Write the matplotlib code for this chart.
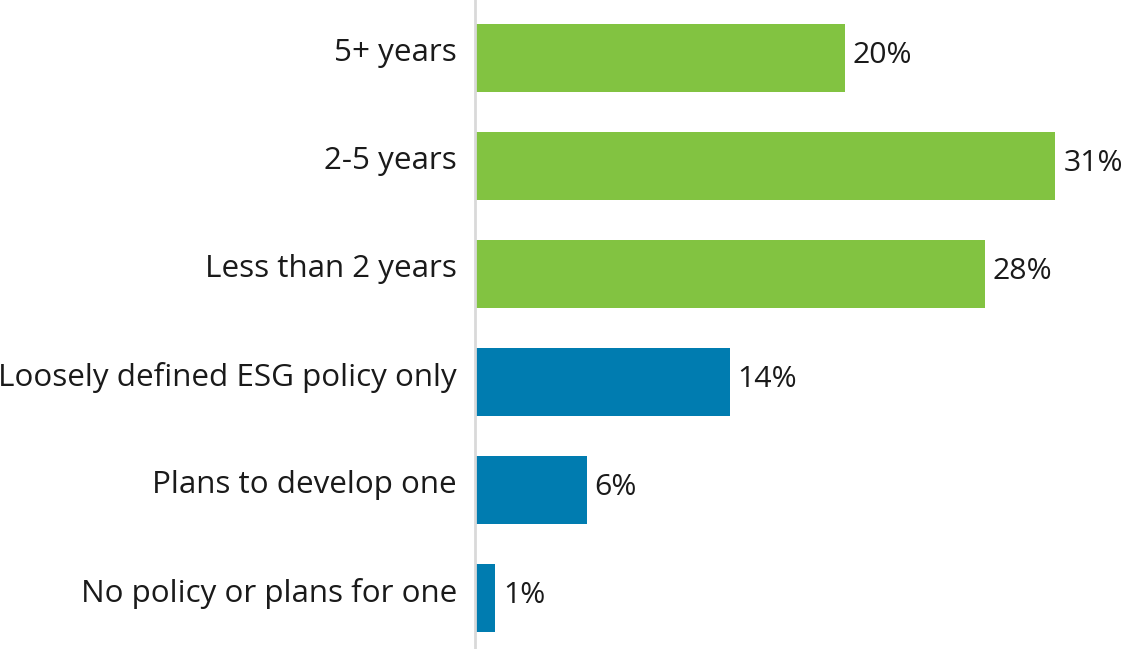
import matplotlib.pyplot as plt
import matplotlib.transforms as mtransforms

categories = ["5+ years", "2-5 years", "Less than 2 years",
              "Loosely defined ESG policy only", "Plans to develop one",
              "No policy or plans for one"]
values = [19.9, 31.2, 27.4, 13.7, 6.0, 1.1]
value_labels = ["20%", "31%", "28%", "14%", "6%", "1%"]
groups = ["green", "green", "green", "blue", "blue", "blue"]

colors = {"green": "#82c341", "blue": "#007cb0"}

plt.rcParams['font.family'] = ['Open Sans', 'DejaVu Sans']

fig = plt.figure(figsize=(11.27, 6.49), dpi=100)
ax = fig.add_axes([475 / 1127, 0.0, 1 - 475 / 1127, 1.0])

ypos = list(range(len(categories)))
ax.barh(ypos, values, height=0.63, color=[colors[g] for g in groups])

# text sits a few pixels above the bar centre in the original
val_shift = mtransforms.ScaledTranslation(0, 3 / 100, fig.dpi_scale_trans)
cat_shift = mtransforms.ScaledTranslation(-18 / 100, 5 / 100, fig.dpi_scale_trans)

for y, v, lab in zip(ypos, values, value_labels):
    ax.text(v + 0.42, y, lab, va='center', ha='left', fontsize=21.8, color='#1a1a1a',
            transform=ax.transData + val_shift)

# category labels drawn as text so they can be nudged like the original
ylab_trans = mtransforms.blended_transform_factory(ax.transAxes, ax.transData)
for y, cat in zip(ypos, categories):
    ax.text(0, y, cat, va='center', ha='right', fontsize=22.6, color='#1a1a1a',
            transform=ylab_trans + cat_shift)

ax.set_yticks([])
ax.set_xticks([])
ax.set_xlim(0, 35.05)
ax.set_ylim(5.47, -0.537)

for s in ['top', 'right', 'bottom']:
    ax.spines[s].set_visible(False)
ax.spines['left'].set_color('#d9d9d9')
ax.spines['left'].set_linewidth(2)

fig.savefig("out.png", dpi=100)
